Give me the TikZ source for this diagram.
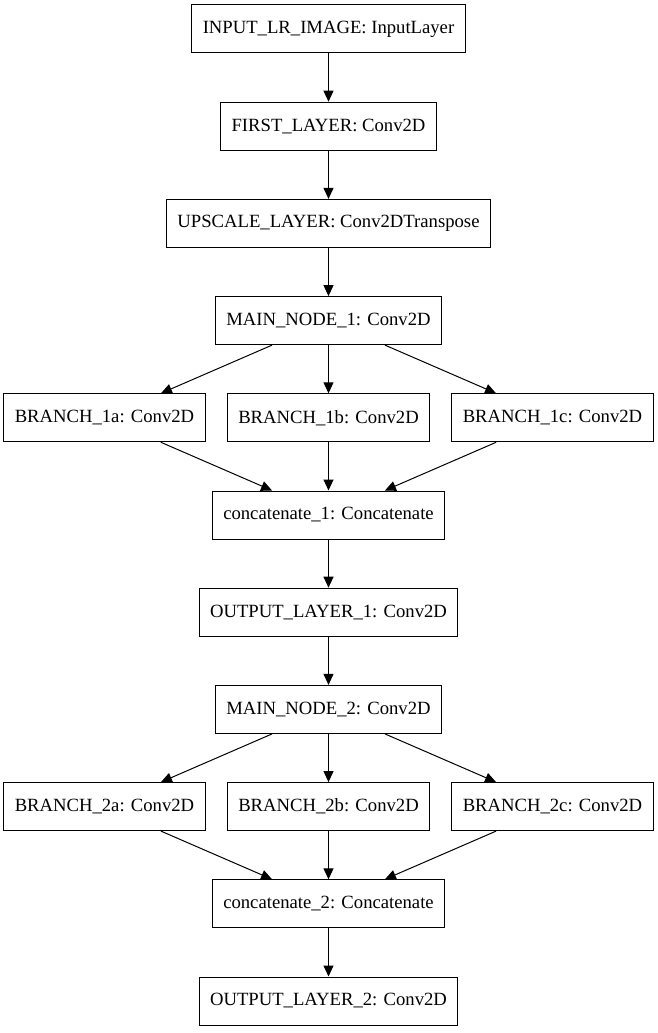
\documentclass[tikz,border=0pt]{standalone}
\usepackage{fontspec}
\setmainfont{Liberation Serif}
\usetikzlibrary{arrows.meta}
\begin{document}
\begin{tikzpicture}[x=1pt,y=-1pt,
  layer/.style={draw, line width=1pt, rectangle, minimum height=48pt, inner xsep=11pt, inner ysep=0pt,
    font=\fontsize{18.67}{22}\selectfont, anchor=center},
  conn/.style={line width=1pt, -{Triangle[length=11pt,width=10pt]}}]
\useasboundingbox (0,0) rectangle (657,1033);
\node[layer] (in) at (328.5,29) {INPUT\_LR\_IMAGE: InputLayer};
\node[layer] (first) at (328.5,126.2) {FIRST\_LAYER: Conv2D};
\node[layer] (up) at (328.5,223.4) {UPSCALE\_LAYER: Conv2DTranspose};
\node[layer] (m1) at (328.5,320.6) {MAIN\_NODE\_1: Conv2D};
\node[layer] (b1a) at (104.5,417.8) {BRANCH\_1a: Conv2D};
\node[layer] (b1b) at (328.5,417.8) {BRANCH\_1b: Conv2D};
\node[layer] (b1c) at (552.5,417.8) {BRANCH\_1c: Conv2D};
\node[layer] (c1) at (328.5,515) {concatenate\_1: Concatenate};
\node[layer] (o1) at (328.5,612.2) {OUTPUT\_LAYER\_1: Conv2D};
\node[layer] (m2) at (328.5,709.4) {MAIN\_NODE\_2: Conv2D};
\node[layer] (b2a) at (104.5,806.6) {BRANCH\_2a: Conv2D};
\node[layer] (b2b) at (328.5,806.6) {BRANCH\_2b: Conv2D};
\node[layer] (b2c) at (552.5,806.6) {BRANCH\_2c: Conv2D};
\node[layer] (c2) at (328.5,903.8) {concatenate\_2: Concatenate};
\node[layer] (o2) at (328.5,1001) {OUTPUT\_LAYER\_2: Conv2D};
\draw[conn] (in) -- (first);
\draw[conn] (first) -- (up);
\draw[conn] (up) -- (m1);
\draw[conn] (m1) -- (b1a);
\draw[conn] (m1) -- (b1b);
\draw[conn] (m1) -- (b1c);
\draw[conn] (b1a) -- (c1);
\draw[conn] (b1b) -- (c1);
\draw[conn] (b1c) -- (c1);
\draw[conn] (c1) -- (o1);
\draw[conn] (o1) -- (m2);
\draw[conn] (m2) -- (b2a);
\draw[conn] (m2) -- (b2b);
\draw[conn] (m2) -- (b2c);
\draw[conn] (b2a) -- (c2);
\draw[conn] (b2b) -- (c2);
\draw[conn] (b2c) -- (c2);
\draw[conn] (c2) -- (o2);
\end{tikzpicture}
\end{document}
